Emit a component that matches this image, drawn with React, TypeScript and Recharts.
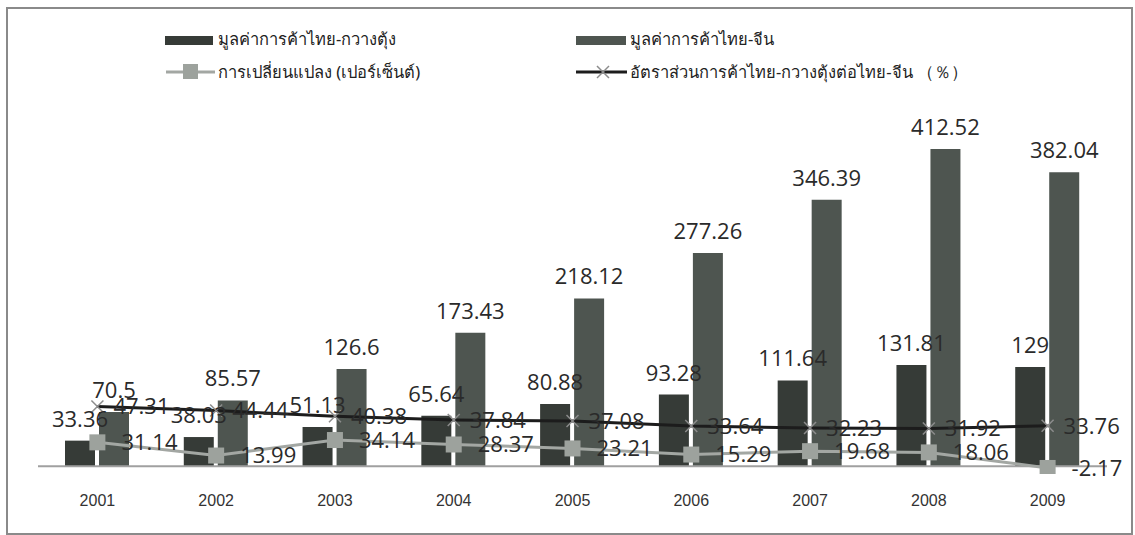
import React from "react";
import { ComposedChart, Bar, Line, XAxis, YAxis, LabelList, ReferenceLine } from "recharts";

const years = ["2001", "2002", "2003", "2004", "2005", "2006", "2007", "2008", "2009"];
const guangdongTrade = [33.36, 38.03, 51.13, 65.64, 80.88, 93.28, 111.64, 131.81, 129];
const chinaTrade = [70.5, 85.57, 126.6, 173.43, 218.12, 277.26, 346.39, 412.52, 382.04];
const changePct = [31.14, 13.99, 34.14, 28.37, 23.21, 15.29, 19.68, 18.06, -2.17];
const shareRatio = [47.31, 44.44, 40.38, 37.84, 37.08, 33.64, 32.23, 31.92, 33.76];

const seriesNames = {
  gd: "มูลค่าการค้าไทย-กวางตุ้ง",
  cn: "มูลค่าการค้าไทย-จีน",
  change: "การเปลี่ยนแปลง (เปอร์เซ็นต์)",
  ratio: "อัตราส่วนการค้าไทย-กวางตุ้งต่อไทย-จีน （％）",
};

const data = years.map((year, i) => ({
  year,
  gd: guangdongTrade[i],
  cn: chinaTrade[i],
  change: changePct[i],
  ratio: shareRatio[i],
}));

const GD_COLOR = "#363b37";
const CN_COLOR = "#4e5550";
const CHANGE_COLOR = "#a3a7a3";
const RATIO_COLOR = "#1c1c1c";
const labelFont = { fontFamily: "'Open Sans', sans-serif", fontSize: 22, fill: "#2a2a2a" };

const SquareDot = (props: any) => {
  const { cx, cy, index } = props;
  if (cx == null || cy == null) return null;
  return <rect key={`sq-${index}`} x={cx - 8} y={cy - 8} width={16} height={16} fill="#9da29d" />;
};

const CrossDot = (props: any) => {
  const { cx, cy, index } = props;
  if (cx == null || cy == null) return null;
  return (
    <g key={`x-${index}`} stroke="#8c8c8c" strokeWidth={1.5}>
      <line x1={cx - 6} y1={cy - 6} x2={cx + 6} y2={cy + 6} />
      <line x1={cx - 6} y1={cy + 6} x2={cx + 6} y2={cy - 6} />
    </g>
  );
};

const legendText: React.CSSProperties = {
  position: "absolute",
  fontFamily: "'Noto Sans', 'DejaVu Sans', sans-serif",
  fontSize: 16.5,
  color: "#222",
  whiteSpace: "nowrap",
  lineHeight: "22px",
};

function ChartLegend() {
  return (
    <>
      <div style={{ position: "absolute", left: 165, top: 36, width: 48, height: 9, background: GD_COLOR }} />
      <div style={{ ...legendText, left: 218, top: 28 }}>{seriesNames.gd}</div>
      <div style={{ position: "absolute", left: 576, top: 36, width: 50, height: 9, background: CN_COLOR }} />
      <div style={{ ...legendText, left: 630, top: 28 }}>{seriesNames.cn}</div>

      <svg style={{ position: "absolute", left: 160, top: 62 }} width={60} height={20}>
        <line x1={6} y1={10} x2={55} y2={10} stroke={CHANGE_COLOR} strokeWidth={3} />
        <rect x={23} y={2} width={15} height={15} fill="#9da29d" />
      </svg>
      <div style={{ ...legendText, left: 218, top: 61 }}>{seriesNames.change}</div>

      <svg style={{ position: "absolute", left: 571, top: 62 }} width={60} height={20}>
        <line x1={5} y1={10} x2={56} y2={10} stroke={RATIO_COLOR} strokeWidth={3} />
        <line x1={26} y1={4} x2={38} y2={16} stroke="#8c8c8c" strokeWidth={1.5} />
        <line x1={26} y1={16} x2={38} y2={4} stroke="#8c8c8c" strokeWidth={1.5} />
      </svg>
      <div style={{ ...legendText, left: 630, top: 61 }}>{seriesNames.ratio}</div>
    </>
  );
}

export default function App() {
  return (
    <div style={{ position: "absolute", left: 0, top: 0, width: 1135, height: 535, background: "#fff" }}>
      <div
        style={{
          position: "absolute",
          left: 6,
          top: 7,
          width: 1123,
          height: 524,
          border: "2px solid #8a8a8a",
        }}
      />
      <ComposedChart
        width={1135}
        height={535}
        data={data}
        margin={{ top: 97, right: 28, bottom: 31, left: 38 }}
        style={{ position: "absolute", left: 0, top: 0 }}
      >
        <XAxis
          dataKey="year"
          axisLine={false}
          tickLine={false}
          tickMargin={15}
          interval={0}
          tick={{ fontFamily: "'Liberation Sans', Arial, sans-serif", fontSize: 16, fill: "#333" }}
        />
        <YAxis yAxisId="left" hide domain={[-10, 480]} allowDataOverflow />
        <YAxis yAxisId="right" hide domain={[0, 264]} allowDataOverflow />
        <ReferenceLine yAxisId="left" y={0} stroke="#a0a0a0" strokeWidth={2} />
        <Bar yAxisId="left" dataKey="gd" name={seriesNames.gd} fill={GD_COLOR} barSize={30} isAnimationActive={false}>
          <LabelList dataKey="gd" position="top" offset={14} style={labelFont} />
        </Bar>
        <Bar yAxisId="left" dataKey="cn" name={seriesNames.cn} fill={CN_COLOR} barSize={30} isAnimationActive={false}>
          <LabelList dataKey="cn" position="top" offset={14} style={labelFont} />
        </Bar>
        <Line
          yAxisId="left"
          dataKey="change"
          name={seriesNames.change}
          stroke={CHANGE_COLOR}
          strokeWidth={3}
          dot={SquareDot}
          activeDot={false}
          isAnimationActive={false}
        >
          <LabelList dataKey="change" position="right" offset={24} style={labelFont} />
        </Line>
        <Line
          yAxisId="right"
          dataKey="ratio"
          name={seriesNames.ratio}
          stroke={RATIO_COLOR}
          strokeWidth={3}
          dot={CrossDot}
          activeDot={false}
          isAnimationActive={false}
        >
          <LabelList dataKey="ratio" position="right" offset={16} style={labelFont} />
        </Line>
      </ComposedChart>
      <ChartLegend />
    </div>
  );
}
